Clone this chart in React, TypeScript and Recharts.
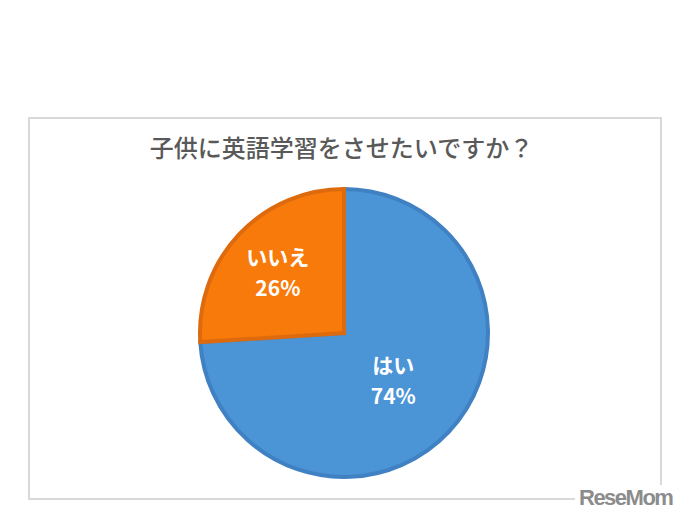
import React from 'react';
import { PieChart, Pie, Cell } from 'recharts';

const title = '子供に英語学習をさせたいですか？';
const categories = ['はい', 'いいえ'];
const values = [74, 26];

const fills = ['#4B94D6', '#F87A0B'];
const strokes = ['#3F81C2', '#DD6B0E'];
// how far out (fraction of radius) each label sits
const labelReach = [0.47, 0.63];

const data = categories.map((name, i) => ({ name, value: values[i] }));

const RADIAN = Math.PI / 180;

const renderLabel = (props: any) => {
  const { cx, cy, midAngle, outerRadius, index, payload } = props;
  const r = outerRadius * labelReach[index];
  const x = cx + r * Math.cos(-midAngle * RADIAN);
  const y = cy + r * Math.sin(-midAngle * RADIAN);
  return (
    <text
      x={x}
      y={y}
      fill="#ffffff"
      textAnchor="middle"
      fontSize={21}
      fontWeight={700}
      fontFamily="'Noto Sans CJK JP', 'Noto Sans', sans-serif"
    >
      <tspan x={x} dy={-6}>{payload.name}</tspan>
      <tspan x={x} dy={31}>{payload.value}%</tspan>
    </text>
  );
};

export default function App() {
  return (
    <div style={{ position: 'absolute', left: 0, top: 0, width: 691, height: 523, background: '#fff', overflow: 'hidden' }}>
      <div
        style={{
          position: 'absolute',
          left: 28,
          top: 117,
          width: 630,
          height: 379,
          border: '2px solid #d9d9d9',
        }}
      />
      <div
        style={{
          position: 'absolute',
          left: 0,
          width: 683,
          top: 131,
          textAlign: 'center',
          fontSize: 24,
          fontWeight: 500,
          color: '#595959',
          fontFamily: "'Noto Sans CJK JP', sans-serif",
          lineHeight: '32px',
        }}
      >
        {title}
      </div>
      <div style={{ position: 'absolute', left: 0, top: 0 }}>
        <PieChart width={691} height={523} margin={{ top: 0, right: 0, bottom: 0, left: 0 }}>
          <Pie
            data={data}
            dataKey="value"
            nameKey="name"
            cx={344}
            cy={333}
            outerRadius={144}
            startAngle={90}
            endAngle={-270}
            label={renderLabel}
            labelLine={false}
            isAnimationActive={false}
          >
            {data.map((d, i) => (
              <Cell key={d.name} fill={fills[i]} stroke={strokes[i]} strokeWidth={4} />
            ))}
          </Pie>
        </PieChart>
      </div>
      <div
        style={{
          position: 'absolute',
          left: 575,
          top: 485,
          fontSize: 22,
          fontWeight: 700,
          color: '#8c8c8c',
          fontFamily: "'Liberation Sans', Arial, sans-serif",
          letterSpacing: -1.5,
          background: '#fff',
          paddingLeft: 4,
          lineHeight: '26px',
        }}
      >
        ReseMom
      </div>
    </div>
  );
}
